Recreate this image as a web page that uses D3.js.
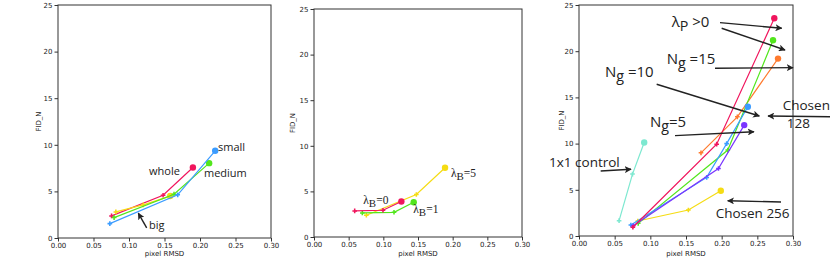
<!DOCTYPE html>
<html>
<head>
<meta charset="utf-8">
<script src="https://cdn.jsdelivr.net/npm/d3@7"></script>
<style>
body{margin:0;background:#fff;}
</style>
</head>
<body>
<div id="chart"></div>
<script>
// tick values shared by all three panels
var xTicks=[0,0.05,0.10,0.15,0.20,0.25,0.30];
var yTicks=[0,5,10,15,20,25];

// panel 1: patch size
var whole=[[0.0754,2.37],[0.148,4.59],[0.190,7.57]];
var small=[[0.073,1.54],[0.1686,4.63],[0.2214,9.36]];
var medium=[[0.079,2.19],[0.1634,4.70],[0.2129,8.03]];
var big=[[0.0815,2.80],[0.120,3.55],[0.158,4.50]];

// panel 2: lambda_B
var lamB0=[[0.0587,2.86],[0.0995,2.93],[0.126,3.89]];
var lamB1=[[0.0697,2.64],[0.1154,2.71],[0.1438,3.81]];
var lamB5=[[0.0755,2.38],[0.1476,4.66],[0.189,7.59]];

// panel 3: grid / lambda_P
var control1x1=[[0.0562,1.66],[0.075,6.70],[0.0914,10.12]];
var chosen256=[[0.0825,1.62],[0.1533,2.81],[0.1988,4.90]];
var lamPred=[[0.0755,0.95],[0.193,9.94],[0.2738,23.56]];
var lamPgreen=[[0.083,1.37],[0.2086,9.30],[0.272,21.18]];
var ng15=[[0.171,9.0],[0.222,12.9],[0.279,19.2]];
var ng10=[[0.0727,1.19],[0.179,6.34],[0.207,10.0],[0.2367,13.98]];
var ng5=[[0.076,1.10],[0.1955,7.31],[0.2316,12.0]];

var panels=[
  {box:[58,271,5,238],xl:39,yl:256,
   series:[{d:whole,c:"#f0155d"},{d:big,c:"#f5dc14"},{d:medium,c:"#52e61c"},{d:small,c:"#3b9cff"}],
   labels:[{t:"small",x:0.2254,y:9.38},{t:"whole",x:0.1282,y:6.79},{t:"medium",x:0.2056,y:6.57},{t:"big",x:0.1282,y:0.97}],
   arrows:[[0.1249,1.08,0.1131,2.66]],font:"Open Sans",fs:11},
  {box:[314,522,9,237],xl:293,yl:256,
   series:[{d:lamB5,c:"#f5dc14"},{d:lamB1,c:"#52e61c"},{d:lamB0,c:"#f0155d"}],
   labels:[{t:"λ",s:"B",r:"=5",x:0.1976,y:6.58},{t:"λ",s:"B",r:"=0",x:0.0711,y:3.62},{t:"λ",s:"B",r:"=1",x:0.1432,y:2.63}],
   arrows:[],font:"Liberation Serif",fs:11.5},
  {box:[579,793,5,236],xl:562,yl:256,
   series:[{d:control1x1,c:"#7de8d0"},{d:chosen256,c:"#f5dc14"},{d:ng15,c:"#ff7a2e"},{d:lamPgreen,c:"#52e61c"},
           {d:ng10,c:"#3b9cff"},{d:ng5,c:"#7a35ff"},{d:lamPred,c:"#f0155d"}],
   labels:[{t:"λ",s:"P",r:" >0",x:0.130,y:22.62},{t:"N",s:"g",r:" =15",x:0.1229,y:18.62},
           {t:"N",s:"g",r:" =10",x:0.0364,y:17.21},{t:"N",s:"g",r:"=5",x:0.0995,y:11.80},
           {t:"Chosen",x:0.2856,y:13.64,f:13.5},{t:"128",x:0.2912,y:11.72,f:13.5},
           {t:"1x1 control",x:-0.042,y:7.50,f:13.5},{t:"Chosen 256",x:0.1916,y:1.95,f:13.5}],
   arrows:[[0.1977,23.09,0.2842,22.48],[0.2000,22.48,0.2888,20.13],[0.1907,18.15,0.3000,18.22],
           [0.1089,16.42,0.2528,12.99],[0.3537,12.91,0.2650,12.99],[0.1346,10.86,0.2453,11.29],
           [0.0304,7.03,0.0729,7.22],[0.2832,3.68,0.2085,3.82]],font:"Open Sans",fs:15}
];

var svg=d3.select("#chart").append("svg")
          .attr("width",830)
          .attr("height",259);

svg.append("defs").append("marker")
   .attr("id","head")
   .attr("viewBox","0 0 10 10")
   .attr("refX",9).attr("refY",5)
   .attr("markerWidth",7).attr("markerHeight",7)
   .attr("markerUnits","userSpaceOnUse")
   .attr("orient","auto")
   .append("path")
   .attr("d","M0,0 L10,5 L0,10 L2.5,5 Z")
   .attr("fill","#222");

panels.forEach(function(p){
  var x=d3.scaleLinear().domain([0,0.3]).range([p.box[0],p.box[1]]);
  var y=d3.scaleLinear().domain([0,25]).range([p.box[3],p.box[2]]);
  var g=svg.append("g");

  var xAxis=g.append("g")
     .attr("transform","translate(0,"+p.box[3]+")")
     .call(d3.axisBottom(x).tickValues(xTicks).tickFormat(d3.format(".2f")).tickSize(3.5).tickPadding(2));
  var yAxis=g.append("g")
     .attr("transform","translate("+p.box[0]+",0)")
     .call(d3.axisLeft(y).tickValues(yTicks).tickSize(3.5).tickPadding(2));
  [xAxis,yAxis].forEach(function(a){
    a.select(".domain").remove();
    a.selectAll("line").attr("stroke","#333");
    a.selectAll("text").attr("font-family","DejaVu Sans").attr("font-size",7).attr("fill","#222");
  });

  g.append("rect")
   .attr("x",p.box[0]).attr("y",p.box[2])
   .attr("width",p.box[1]-p.box[0]).attr("height",p.box[3]-p.box[2])
   .attr("fill","none").attr("stroke","#333").attr("stroke-width",1);

  g.append("text").text("pixel RMSD")
   .attr("x",(p.box[0]+p.box[1])/2).attr("y",p.yl)
   .attr("text-anchor","middle")
   .attr("font-family","DejaVu Sans").attr("font-size",7).attr("fill","#222");
  g.append("text").text("FID_N")
   .attr("transform","translate("+p.xl+","+(p.box[2]+p.box[3])/2+") rotate(-90)")
   .attr("text-anchor","middle").attr("dy","0.35em")
   .attr("font-family","DejaVu Sans").attr("font-size",7).attr("fill","#222");

  var line=d3.line().x(function(d){return x(d[0]);}).y(function(d){return y(d[1]);});
  p.series.forEach(function(s){
    g.append("path").datum(s.d)
     .attr("d",line)
     .attr("fill","none").attr("stroke",s.c).attr("stroke-width",1.2);
    g.selectAll(null).data(s.d.slice(0,-1)).enter()
     .append("path")
     .attr("d",d3.symbol().type(d3.symbolCross).size(12))
     .attr("transform",function(d){return "translate("+x(d[0])+","+y(d[1])+")";})
     .attr("fill",s.c);
    g.append("circle").datum(s.d[s.d.length-1])
     .attr("cx",function(d){return x(d[0]);})
     .attr("cy",function(d){return y(d[1]);})
     .attr("r",3.2).attr("fill",s.c);
  });

  g.selectAll(null).data(p.arrows).enter()
   .append("line")
   .attr("x1",function(d){return x(d[0]);}).attr("y1",function(d){return y(d[1]);})
   .attr("x2",function(d){return x(d[2]);}).attr("y2",function(d){return y(d[3]);})
   .attr("stroke","#222").attr("stroke-width",1.4)
   .attr("marker-end","url(#head)");

  p.labels.forEach(function(l){
    var fs=l.f||p.fs;
    var t=g.append("text")
     .attr("x",x(l.x)).attr("y",y(l.y))
     .attr("font-family",p.font).attr("font-size",fs).attr("fill","#222");
    t.append("tspan").text(l.t);
    if(l.s){
      t.append("tspan").text(l.s).attr("dy",fs*0.3).attr("font-size",fs*0.95);
      t.append("tspan").text(l.r).attr("dy",-fs*0.3);
    }
  });
});
</script>
</body>
</html>
